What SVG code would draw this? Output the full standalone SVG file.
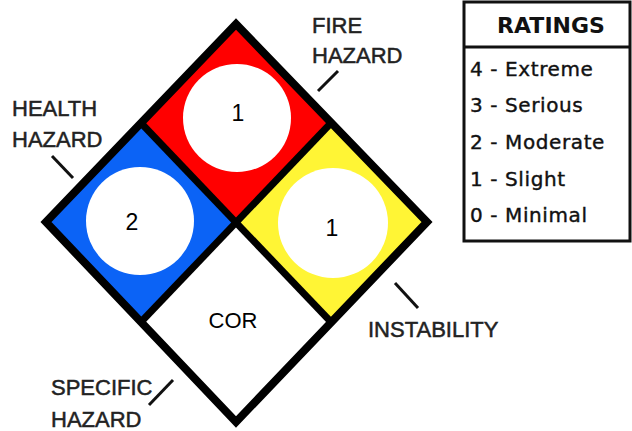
<svg xmlns="http://www.w3.org/2000/svg" width="632" height="431" viewBox="0 0 632 431">
<style>
.lbl{font-family:"Liberation Sans",Arial,sans-serif;font-size:22px;fill:#222;stroke:#222;stroke-width:0.5}
.num{font-family:"Liberation Sans",Arial,sans-serif;font-size:23px;fill:#000;text-anchor:middle}
.rt{font-family:"DejaVu Sans",sans-serif;font-size:20px;fill:#111;stroke:#111;stroke-width:0.4;letter-spacing:0.6px}
.lead{stroke:#111;stroke-width:3;fill:none}
.edge{stroke:#000;stroke-width:8;fill:none;stroke-linejoin:miter}
</style>
<rect width="632" height="431" fill="#fff"/>
<g id="fire">
<polygon points="236,24 331,123 236,222 141,123" fill="#ff0000"/>
<circle cx="237" cy="118" r="54" fill="#fff"/>
<text class="num" x="238" y="121">1</text>
</g>
<g id="health">
<polygon points="141,123 236,222 141,322 46,222" fill="#0b63f6"/>
<circle cx="140" cy="221" r="54" fill="#fff"/>
<text class="num" x="132" y="230">2</text>
</g>
<g id="instability">
<polygon points="331,123 427,222 331,322 236,222" fill="#fff535"/>
<circle cx="333" cy="223" r="55" fill="#fff"/>
<text class="num" x="332" y="236">1</text>
</g>
<g id="specific">
<polygon points="236,222 331,322 236,422 141,322" fill="#fff"/>
<text class="num" x="233" y="328" style="font-size:22px">COR</text>
</g>
<g id="connectors">
<polygon class="edge" points="236,24 427,222 236,422 46,222"/>
<line class="edge" x1="141" y1="123" x2="331" y2="322" style="stroke-width:7"/>
<line class="edge" x1="331" y1="123" x2="141" y2="322" style="stroke-width:7"/>
<line class="lead" x1="338" y1="71" x2="318" y2="91"/>
<line class="lead" x1="52" y1="156" x2="73" y2="178"/>
<line class="lead" x1="395" y1="283" x2="418" y2="308"/>
<line class="lead" x1="173" y1="380" x2="149" y2="405"/>
</g>
<g id="labels">
<text class="lbl" x="312" y="33">FIRE</text>
<text class="lbl" x="312" y="63">HAZARD</text>
<text class="lbl" x="12" y="116">HEALTH</text>
<text class="lbl" x="12" y="147">HAZARD</text>
<text class="lbl" x="368" y="337">INSTABILITY</text>
<text class="lbl" x="51" y="395">SPECIFIC</text>
<text class="lbl" x="51" y="427">HAZARD</text>
</g>
<g id="ratings">
<rect x="464" y="2" width="166" height="239" fill="#fff" stroke="#111" stroke-width="3"/>
<line x1="464" y1="47" x2="630" y2="47" stroke="#111" stroke-width="3"/>
<text x="551" y="33" style="font-family:'DejaVu Sans',sans-serif;font-size:22px;font-weight:bold;fill:#111;text-anchor:middle">RATINGS</text>
<text class="rt" x="470" y="76">4 - Extreme</text>
<text class="rt" x="470" y="112">3 - Serious</text>
<text class="rt" x="470" y="149">2 - Moderate</text>
<text class="rt" x="470" y="186">1 - Slight</text>
<text class="rt" x="470" y="222">0 - Minimal</text>
</g>
</svg>
